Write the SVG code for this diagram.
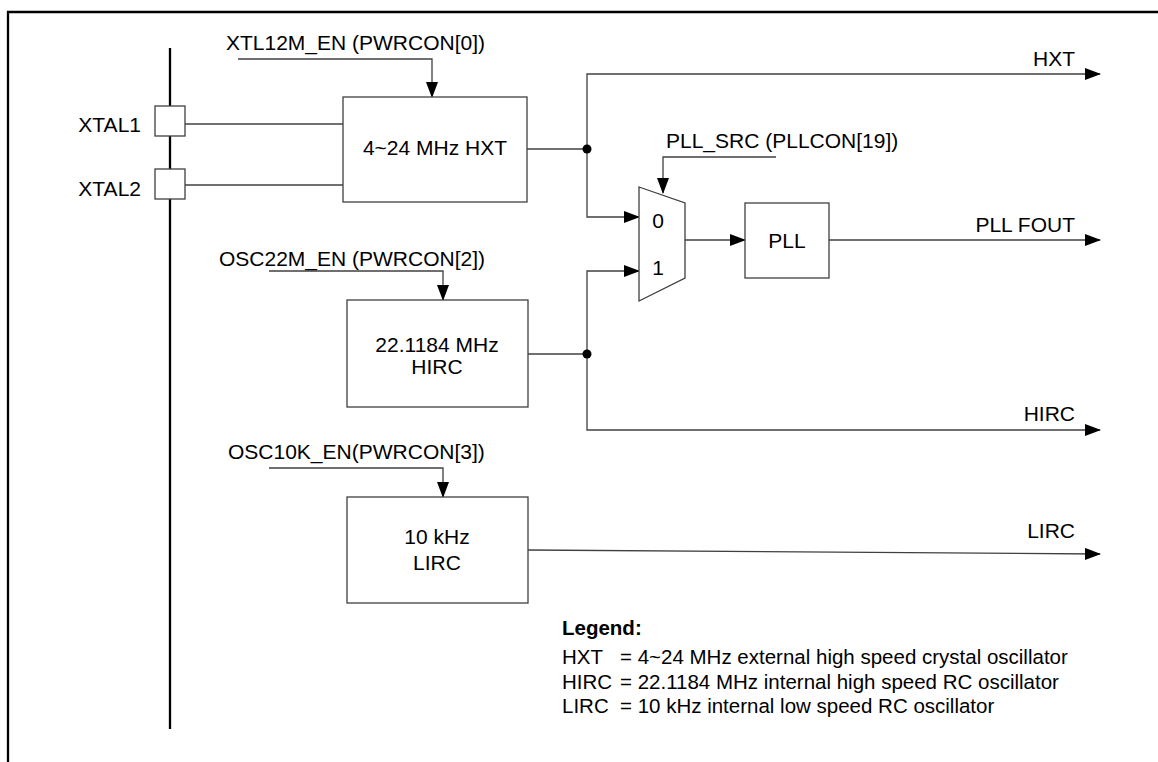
<svg xmlns="http://www.w3.org/2000/svg" width="1158" height="762" viewBox="0 0 1158 762">
<defs>
<style>
text{font-family:"Liberation Sans",Arial,sans-serif;font-size:21px;fill:#000}
.lg{font-size:20.5px}
.box{fill:#fff;stroke:#404040;stroke-width:1.3}
.w{fill:none;stroke:#404040;stroke-width:1.3}
.thick{fill:none;stroke:#000;stroke-width:2.3}
.mid{text-anchor:middle}
.end{text-anchor:end}
.b{font-weight:bold}
</style>
<marker id="ah" markerUnits="userSpaceOnUse" markerWidth="16" markerHeight="12" refX="15" refY="6" orient="auto">
<path d="M0,0 L16,6 L0,12 Z" fill="#000"/>
</marker>
</defs>
<rect width="1158" height="762" fill="#fff"/>
<g id="frame">
<path class="thick" d="M8,762 V12 H1158"/>
</g>
<g id="bus">
<path class="thick" d="M170,48 V729"/>
</g>
<g id="connectors">
<path class="w" d="M185,124 H343"/>
<path class="w" d="M185,185 H343"/>
<path class="w" d="M238,59 H432 V97" marker-end="url(#ah)"/>
<path class="w" d="M269,271 H443 V300" marker-end="url(#ah)"/>
<path class="w" d="M269,468 H443 V497" marker-end="url(#ah)"/>
<path class="w" d="M527,149 H587"/>
<path class="w" d="M587,149 V74 H1100" marker-end="url(#ah)"/>
<path class="w" d="M587,149 V217 H639" marker-end="url(#ah)"/>
<path class="w" d="M528,354 H587"/>
<path class="w" d="M587,354 V271 H639" marker-end="url(#ah)"/>
<path class="w" d="M587,354 V430 H1100" marker-end="url(#ah)"/>
<path class="w" d="M776,157 H663 V193" marker-end="url(#ah)"/>
<path class="w" d="M685,240 H745" marker-end="url(#ah)"/>
<path class="w" d="M829,240 H1100" marker-end="url(#ah)"/>
<path class="w" d="M528,550 L1100,554" marker-end="url(#ah)"/>
<circle cx="587" cy="149" r="4.5" fill="#000"/>
<circle cx="587" cy="354" r="4.5" fill="#000"/>
</g>
<g id="xtal1">
<rect class="box" x="155" y="106" width="30" height="30"/>
<text class="end" x="141" y="132">XTAL1</text>
</g>
<g id="xtal2">
<rect class="box" x="155" y="169" width="30" height="30"/>
<text class="end" x="141" y="196">XTAL2</text>
</g>
<g id="hxt">
<rect class="box" x="343" y="97" width="184" height="105"/>
<text class="mid" x="435" y="155">4~24 MHz HXT</text>
</g>
<g id="hirc">
<rect class="box" x="347" y="300" width="181" height="107"/>
<text class="mid" x="437" y="352">22.1184 MHz</text>
<text class="mid" x="437" y="374">HIRC</text>
</g>
<g id="lirc">
<rect class="box" x="347" y="497" width="181" height="106"/>
<text class="mid" x="437" y="544">10 kHz</text>
<text class="mid" x="437" y="570">LIRC</text>
</g>
<g id="mux">
<polygon class="box" points="639,187 685,203 685,278 639,301"/>
<text class="mid" x="658" y="228">0</text>
<text class="mid" x="658" y="275">1</text>
</g>
<g id="pll">
<rect class="box" x="745" y="203" width="84" height="75"/>
<text class="mid" x="787" y="248">PLL</text>
</g>
<g id="labels">
<text x="226" y="50">XTL12M_EN (PWRCON[0])</text>
<text x="219" y="266">OSC22M_EN (PWRCON[2])</text>
<text x="228" y="459">OSC10K_EN(PWRCON[3])</text>
<text x="666" y="148">PLL_SRC (PLLCON[19])</text>
<text class="end" x="1075" y="66">HXT</text>
<text class="end" x="1075" y="232">PLL FOUT</text>
<text class="end" x="1075" y="421">HIRC</text>
<text class="end" x="1075" y="538">LIRC</text>
</g>
<g id="legend" class="lg">
<text class="b lg" x="562" y="635">Legend:</text>
<text class="lg" x="562" y="664">HXT<tspan x="620">= 4~24 MHz external high speed crystal oscillator</tspan></text>
<text class="lg" x="562" y="689">HIRC<tspan x="620">= 22.1184 MHz internal high speed RC oscillator</tspan></text>
<text class="lg" x="562" y="713">LIRC<tspan x="620">= 10 kHz internal low speed RC oscillator</tspan></text>
</g>
</svg>
